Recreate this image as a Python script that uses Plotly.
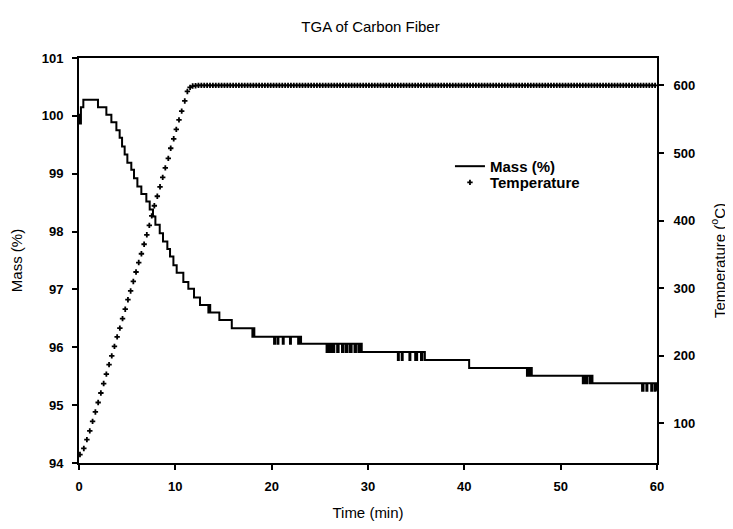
import plotly.graph_objects as go

# ---------------- data ----------------
# Mass (%) change points (stepped signal, drawn with 'hv' steps)
mass_time = [0.0, 0.08, 0.2, 0.45, 1.97, 2.84, 3.36, 3.88, 4.22, 4.47, 4.74, 5.02, 5.43,
             5.71, 6.06, 6.47, 6.99, 7.34, 7.68, 7.93, 8.38, 8.72, 9.17, 9.45, 9.8,
             10.14, 10.83, 11.35, 11.94, 12.56, 13.43, 13.55, 13.62, 14.57, 15.86,
             18.0, 18.1, 18.2,
             20.25, 20.35, 20.6, 20.7, 21.15, 21.25, 21.9, 22.0, 22.75, 22.85, 23.05,
             25.7, 25.85, 26.0, 26.2, 26.35, 26.5, 26.8, 26.95, 27.3, 27.45, 27.7, 27.85,
             28.1, 28.3, 28.6, 28.75, 29.0, 29.15, 29.35,
             33.1, 33.2, 33.5, 33.6, 34.3, 34.4, 34.9, 35.1, 35.5, 35.65, 35.9,
             40.5, 46.5, 46.6, 46.75, 46.85, 47.0,
             52.3, 52.45, 52.6, 52.75, 53.0, 53.1, 53.3,
             58.45, 58.6, 58.9, 59.0, 59.4, 59.5, 59.75, 59.85, 60.0]
mass_value = [100.02, 99.87, 100.15, 100.28, 100.15, 100.02, 99.89, 99.75, 99.62, 99.47, 99.33,
              99.19, 99.07, 98.92, 98.78, 98.65, 98.52, 98.38, 98.26, 98.12, 97.97, 97.83,
              97.70, 97.57, 97.42, 97.29, 97.13, 97.01, 96.86, 96.73, 96.60, 96.73, 96.60,
              96.47, 96.33,
              96.18, 96.33, 96.18,
              96.06, 96.18, 96.06, 96.18, 96.06, 96.18, 96.06, 96.18, 96.06, 96.18, 96.06,
              95.92, 96.06, 95.92, 96.06, 95.92, 96.06, 95.92, 96.06, 95.92, 96.06, 95.92, 96.06,
              95.92, 96.06, 95.92, 96.06, 95.92, 96.06, 95.92,
              95.78, 95.92, 95.78, 95.92, 95.78, 95.92, 95.78, 95.92, 95.78, 95.92, 95.78,
              95.64, 95.51, 95.64, 95.51, 95.64, 95.51,
              95.38, 95.51, 95.38, 95.51, 95.38, 95.51, 95.38,
              95.25, 95.38, 95.25, 95.38, 95.25, 95.38, 95.25, 95.38, 95.25]

# Temperature (°C) samples
temp_time = [0.10, 0.50, 0.82, 1.12, 1.41, 1.70, 1.99, 2.27, 2.56, 2.84,
             3.12, 3.40, 3.68, 3.96, 4.24, 4.52, 4.80, 5.08, 5.36, 5.64,
             5.92, 6.20, 6.48, 6.76, 7.04, 7.30, 7.55, 7.82, 8.13, 8.41,
             8.69, 8.96, 9.27, 9.52, 9.83, 10.10, 10.38, 10.66, 10.98, 11.25,
             11.53,
             11.8, 12.1, 12.4, 12.7, 13.0, 13.3, 13.6, 13.9, 14.2, 14.5,
             14.8, 15.1, 15.4, 15.7, 16.0, 16.3, 16.6, 16.9, 17.2, 17.5,
             17.8, 18.1, 18.4, 18.7, 19.0, 19.3, 19.6, 19.9, 20.2, 20.5,
             20.8, 21.1, 21.4, 21.7, 22.0, 22.3, 22.6, 22.9, 23.2, 23.5,
             23.8, 24.1, 24.4, 24.7, 25.0, 25.3, 25.6, 25.9, 26.2, 26.5,
             26.8, 27.1, 27.4, 27.7, 28.0, 28.3, 28.6, 28.9, 29.2, 29.5,
             29.8, 30.1, 30.4, 30.7, 31.0, 31.3, 31.6, 31.9, 32.2, 32.5,
             32.8, 33.1, 33.4, 33.7, 34.0, 34.3, 34.6, 34.9, 35.2, 35.5,
             35.8, 36.1, 36.4, 36.7, 37.0, 37.3, 37.6, 37.9, 38.2, 38.5,
             38.8, 39.1, 39.4, 39.7, 40.0, 40.3, 40.6, 40.9, 41.2, 41.5,
             41.8, 42.1, 42.4, 42.7, 43.0, 43.3, 43.6, 43.9, 44.2, 44.5,
             44.8, 45.1, 45.4, 45.7, 46.0, 46.3, 46.6, 46.9, 47.2, 47.5,
             47.8, 48.1, 48.4, 48.7, 49.0, 49.3, 49.6, 49.9, 50.2, 50.5,
             50.8, 51.1, 51.4, 51.7, 52.0, 52.3, 52.6, 52.9, 53.2, 53.5,
             53.8, 54.1, 54.4, 54.7, 55.0, 55.3, 55.6, 55.9, 56.2, 56.5,
             56.8, 57.1, 57.4, 57.7, 58.0, 58.3, 58.6, 58.9, 59.2, 59.5,
             59.8]
temp_value = [54, 63, 76, 89, 103, 117, 131, 145, 159, 173,
              187, 200, 214, 228, 241, 255, 269, 283, 296, 310,
              324, 338, 351, 365, 379, 393, 407, 422, 436, 450,
              464, 478, 492, 507, 521, 535, 549, 562, 577, 591,
              597,
              599, 599.5, 600, 600, 600, 600, 600, 600, 600, 600,
              600, 600, 600, 600, 600, 600, 600, 600, 600, 600,
              600, 600, 600, 600, 600, 600, 600, 600, 600, 600,
              600, 600, 600, 600, 600, 600, 600, 600, 600, 600,
              600, 600, 600, 600, 600, 600, 600, 600, 600, 600,
              600, 600, 600, 600, 600, 600, 600, 600, 600, 600,
              600, 600, 600, 600, 600, 600, 600, 600, 600, 600,
              600, 600, 600, 600, 600, 600, 600, 600, 600, 600,
              600, 600, 600, 600, 600, 600, 600, 600, 600, 600,
              600, 600, 600, 600, 600, 600, 600, 600, 600, 600,
              600, 600, 600, 600, 600, 600, 600, 600, 600, 600,
              600, 600, 600, 600, 600, 600, 600, 600, 600, 600,
              600, 600, 600, 600, 600, 600, 600, 600, 600, 600,
              600, 600, 600, 600, 600, 600, 600, 600, 600, 600,
              600, 600, 600, 600, 600, 600, 600, 600, 600, 600,
              600, 600, 600, 600, 600, 600, 600, 600, 600, 600,
              600]

x_ticks = [0, 10, 20, 30, 40, 50, 60]
mass_ticks = [94, 95, 96, 97, 98, 99, 100, 101]
temp_ticks = [100, 200, 300, 400, 500, 600]

FONT = "Liberation Sans, Arial, sans-serif"

fig = go.Figure()
fig.add_trace(go.Scatter(
    x=mass_time, y=mass_value, name="Mass (%)", mode="lines",
    line=dict(color="black", width=2, shape="hv"), yaxis="y", legend="legend"))
fig.add_trace(go.Scatter(
    x=temp_time, y=temp_value, name="Temperature", mode="markers",
    marker=dict(symbol="cross", size=4.5, color="black"), yaxis="y2", legend="legend2"))

def axis_common(standoff):
    return dict(showgrid=False, zeroline=False, showline=True, linecolor="black",
                linewidth=2, ticks="outside", ticklen=5, tickwidth=2, tickcolor="black",
                ticklabelstandoff=standoff, automargin=False,
                tickfont=dict(family=FONT, size=13, color="black", weight="bold"))

legend_font = dict(family=FONT, size=15, color="black", weight="bold")

fig.update_layout(
    width=725, height=521,
    margin=dict(l=71, r=76, t=50, b=66, autoexpand=False),
    paper_bgcolor="white", plot_bgcolor="white",
    font=dict(family=FONT, color="black"),
    title=dict(text="TGA of Carbon Fiber", x=0.5, xanchor="center",
               y=1 - 19 / 521, yanchor="middle",
               font=dict(family=FONT, size=15, color="black")),
    xaxis=dict(range=[0, 60], tickvals=x_ticks, mirror=True,
               title=dict(text="Time (min)", standoff=15,
                          font=dict(family=FONT, size=15, color="black")),
               **axis_common(5)),
    yaxis=dict(range=[94, 101], tickvals=mass_ticks,
               title=dict(text="Mass (%)", standoff=19,
                          font=dict(family=FONT, size=15, color="black")),
               **axis_common(6)),
    yaxis2=dict(range=[41.5, 640.5], tickvals=temp_ticks, overlaying="y", side="right",
                title=dict(text="Temperature (<sup>o</sup>C)", standoff=20,
                           font=dict(family=FONT, size=15, color="black")),
                **axis_common(7)),
    legend=dict(x=0.6418, y=0.773, xanchor="left", yanchor="top",
                bgcolor="rgba(0,0,0,0)", borderwidth=0, font=legend_font),
    legend2=dict(x=0.6418, y=0.733, xanchor="left", yanchor="top",
                 bgcolor="rgba(0,0,0,0)", borderwidth=0, font=legend_font),
    showlegend=True,
)

fig.write_html("out.html")
